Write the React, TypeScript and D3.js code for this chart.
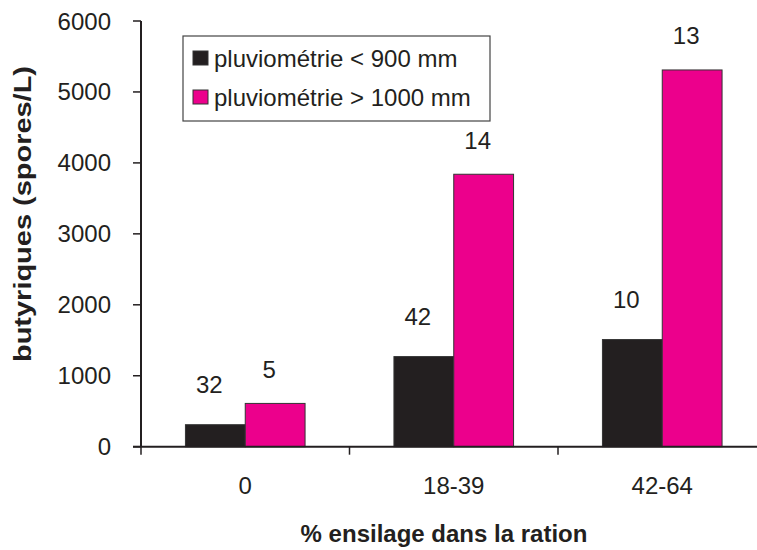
import React from "react";
import * as d3 from "d3";

const categories = ["0", "18-39", "42-64"];
const seriesNames = ["pluviométrie < 900 mm", "pluviométrie > 1000 mm"];
const lowRain = [310, 1270, 1510];
const highRain = [610, 3840, 5310];
const lowCounts = ["32", "42", "10"];
const highCounts = ["5", "14", "13"];
const yTicks = [0, 1000, 2000, 3000, 4000, 5000, 6000];
const colors = ["#231F20", "#EC008C"];

const W = 757;
const H = 550;
const FONT = "'Liberation Sans', Arial, Helvetica, sans-serif";
const FS = 24;

export default function App() {
  const x0 = 141;
  const yBottom = 446.7;
  const yTop = 21;
  const groupStep = 208.5;
  const x = d3
    .scaleBand<string>()
    .domain(categories)
    .range([x0, x0 + groupStep * categories.length])
    .padding(0);
  const xs = d3
    .scaleBand<string>()
    .domain(seriesNames)
    .range([0, x.bandwidth()])
    .paddingInner(0)
    .paddingOuter(0.743);
  const y = d3.scaleLinear().domain([0, 6000]).range([yBottom, yTop]);

  const series = [lowRain, highRain];
  const counts = [lowCounts, highCounts];
  const labelGap = [40, 34];

  return (
    <svg
      width={W}
      height={H}
      style={{ position: "absolute", left: 0, top: 0, background: "#fff" }}
      fontFamily={FONT}
    >
      <rect x={0} y={0} width={W} height={H} fill="#fff" />
      {/* bars */}
      {categories.map((c, ci) =>
        seriesNames.map((s, si) => {
          const v = series[si][ci];
          const bx = (x(c) as number) + (xs(s) as number);
          return (
            <rect
              key={c + s}
              x={bx}
              y={y(v)}
              width={xs.bandwidth()}
              height={y(0) - y(v)}
              fill={colors[si]}
              stroke="#333"
              strokeWidth={1}
            />
          );
        })
      )}
      {/* count labels */}
      {categories.map((c, ci) =>
        seriesNames.map((s, si) => {
          const v = series[si][ci];
          const cx = (x(c) as number) + (xs(s) as number) + xs.bandwidth() / 2 - 6;
          return (
            <text
              key={"l" + c + s}
              x={cx}
              y={y(v) - labelGap[si]}
              textAnchor="middle"
              dominantBaseline="central"
              fontSize={FS}
              fill="#231F20"
            >
              {counts[si][ci]}
            </text>
          );
        })
      )}
      {/* y axis */}
      <line x1={x0} x2={x0} y1={yTop} y2={yBottom} stroke="#231F20" strokeWidth={2} />
      {yTicks.map((t) => (
        <g key={"yt" + t}>
          <line x1={x0 - 8} x2={x0} y1={y(t)} y2={y(t)} stroke="#231F20" strokeWidth={1.5} />
          <text
            x={111}
            y={y(t)}
            textAnchor="end"
            dominantBaseline="central"
            fontSize={FS}
            fill="#231F20"
          >
            {t}
          </text>
        </g>
      ))}
      {/* x axis */}
      <line x1={x0 - 8} x2={W} y1={yBottom} y2={yBottom} stroke="#231F20" strokeWidth={2} />
      {categories.concat(["end"]).map((c, i) => {
        const tx = x0 + groupStep * i;
        return (
          <line key={"xt" + i} x1={tx} x2={tx} y1={yBottom} y2={yBottom + 8} stroke="#231F20" strokeWidth={1.5} />
        );
      })}
      {categories.map((c) => (
        <text
          key={"xl" + c}
          x={(x(c) as number) + x.bandwidth() / 2}
          y={485}
          textAnchor="middle"
          dominantBaseline="central"
          fontSize={FS}
          fill="#231F20"
        >
          {c}
        </text>
      ))}
      {/* axis titles */}
      <text
        x={444}
        y={533}
        textAnchor="middle"
        dominantBaseline="central"
        fontSize={FS}
        fontWeight="bold"
        fill="#231F20"
      >
        % ensilage dans la ration
      </text>
      <text
        transform={`translate(22,214) rotate(-90)`}
        textAnchor="middle"
        dominantBaseline="central"
        fontSize={FS}
        fontWeight="bold"
        fill="#231F20"
        textLength={296}
        lengthAdjust="spacingAndGlyphs"
      >
        butyriques (spores/L)
      </text>
      {/* legend */}
      <g>
        <rect x={183} y={36} width={307} height={85} fill="#fff" stroke="#444" strokeWidth={1.2} />
        {seriesNames.map((s, i) => (
          <g key={"lg" + s}>
            <rect x={193} y={51 + i * 39} width={15} height={14} fill={colors[i]} stroke="#333" strokeWidth={1} />
            <text x={214} y={58 + i * 39} dominantBaseline="central" fontSize={FS} fill="#231F20">
              {s}
            </text>
          </g>
        ))}
      </g>
    </svg>
  );
}
